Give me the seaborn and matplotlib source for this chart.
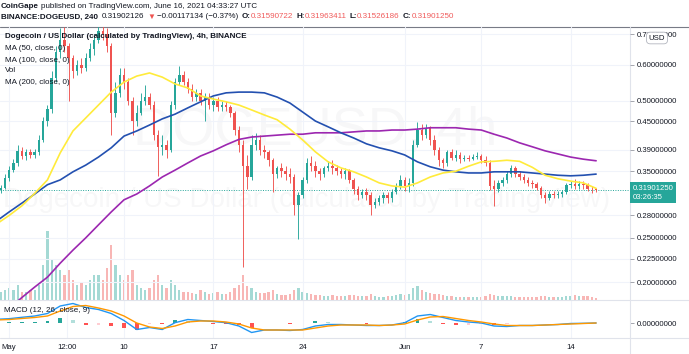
import numpy as np
import pandas as pd
import matplotlib
matplotlib.use("Agg")
import matplotlib.pyplot as plt
import matplotlib.dates as mdates
from matplotlib.lines import Line2D
from matplotlib.ticker import FixedLocator, FixedFormatter, NullLocator
import seaborn as sns

sns.set_theme(style="white")
plt.rcParams['font.family'] = ['Liberation Sans', 'DejaVu Sans']

# ── BINANCE:DOGEUSD, candles of 8h from 2021-04-30 08:00 (open = previous close) ──
FIRST_OPEN = 0.318
close = [0.322, 0.338,
         0.352, 0.365, 0.388,  0.378, 0.385, 0.380,  0.385, 0.410, 0.450,
         0.480, 0.560, 0.640,  0.680, 0.660, 0.620,  0.580, 0.600, 0.590,
         0.620, 0.650, 0.680,  0.710, 0.700, 0.660,  0.470, 0.520, 0.570,
         0.550, 0.500, 0.450,  0.470, 0.500, 0.510,  0.490, 0.420, 0.395,
         0.400, 0.390, 0.490,  0.550, 0.570, 0.550,  0.530, 0.510, 0.520,
         0.500, 0.510, 0.490,  0.500, 0.485, 0.490,  0.485, 0.470, 0.430,
         0.400, 0.360, 0.340,  0.400, 0.410, 0.390,  0.385, 0.370, 0.345,
         0.355, 0.350, 0.345,  0.340, 0.295, 0.310,  0.335, 0.365, 0.360,
         0.350, 0.345, 0.355,  0.360, 0.355, 0.350,  0.345, 0.350, 0.335,
         0.320, 0.310, 0.315,  0.310, 0.295, 0.300,  0.305, 0.310, 0.305,
         0.315, 0.325, 0.335,
         0.325, 0.330, 0.400,  0.430, 0.420, 0.435,  0.410, 0.390, 0.370,
         0.365, 0.385, 0.375,  0.380, 0.372, 0.375,  0.373, 0.376, 0.378,
         0.370, 0.365, 0.325,  0.320, 0.330, 0.335,  0.345, 0.355, 0.345,
         0.340, 0.335, 0.330,  0.328, 0.322, 0.310,  0.305, 0.312, 0.310,
         0.312, 0.315, 0.326,  0.328, 0.325, 0.328,  0.326, 0.320, 0.3195,
         0.319]
high = [0.326, 0.345,
        0.360, 0.372, 0.400,  0.395, 0.392, 0.392,  0.392, 0.420, 0.460,
        0.490, 0.580, 0.660,  0.720, 0.725, 0.670,  0.630, 0.615, 0.620,
        0.635, 0.670, 0.700,  0.740, 0.740, 0.720,  0.670, 0.550, 0.590,
        0.590, 0.560, 0.510,  0.490, 0.520, 0.540,  0.520, 0.500, 0.430,
        0.420, 0.410, 0.500,  0.560, 0.595, 0.580,  0.560, 0.545, 0.530,
        0.530, 0.520, 0.520,  0.510, 0.510, 0.500,  0.500, 0.490, 0.475,
        0.440, 0.410, 0.380,  0.420, 0.425, 0.420,  0.400, 0.390, 0.375,
        0.360, 0.365, 0.360,  0.355, 0.345, 0.315,  0.340, 0.375, 0.378,
        0.368, 0.356, 0.360,  0.368, 0.370, 0.362,  0.356, 0.355, 0.354,
        0.338, 0.325, 0.320,  0.322, 0.315, 0.305,  0.310, 0.315, 0.315,
        0.320, 0.330, 0.343,
        0.340, 0.338, 0.410,  0.449, 0.445, 0.445,  0.440, 0.420, 0.395,
        0.375, 0.390, 0.392,  0.390, 0.385, 0.380,  0.380, 0.382, 0.385,
        0.382, 0.378, 0.370,  0.335, 0.335, 0.340,  0.350, 0.362, 0.360,
        0.350, 0.345, 0.340,  0.335, 0.332, 0.325,  0.315, 0.316, 0.316,
        0.316, 0.318, 0.330,  0.334, 0.336, 0.333,  0.333, 0.330, 0.325,
        0.322]
low = [0.314, 0.320,
       0.334, 0.348, 0.360,  0.372, 0.370, 0.374,  0.375, 0.380, 0.405,
       0.440, 0.470, 0.550,  0.620, 0.640, 0.500,  0.560, 0.570, 0.575,
       0.580, 0.610, 0.630,  0.670, 0.680, 0.640,  0.420, 0.460, 0.510,
       0.530, 0.490, 0.420,  0.440, 0.465, 0.490,  0.480, 0.410, 0.342,
       0.380, 0.375, 0.385,  0.480, 0.540, 0.540,  0.520, 0.500, 0.500,
       0.490, 0.450, 0.480,  0.475, 0.475, 0.475,  0.475, 0.460, 0.420,
       0.385, 0.216, 0.320,  0.335, 0.390, 0.380,  0.375, 0.360, 0.315,
       0.338, 0.340, 0.335,  0.330, 0.280, 0.248,  0.305, 0.330, 0.350,
       0.340, 0.335, 0.340,  0.350, 0.345, 0.343,  0.338, 0.336, 0.330,
       0.312, 0.303, 0.305,  0.303, 0.280, 0.290,  0.295, 0.298, 0.298,
       0.300, 0.312, 0.320,
       0.316, 0.315, 0.325,  0.395, 0.410, 0.415,  0.400, 0.380, 0.360,
       0.355, 0.360, 0.370,  0.368, 0.365, 0.368,  0.368, 0.370, 0.372,
       0.365, 0.360, 0.318,  0.293, 0.315, 0.325,  0.330, 0.340, 0.340,
       0.335, 0.330, 0.325,  0.322, 0.318, 0.305,  0.298, 0.302, 0.305,
       0.306, 0.308, 0.312,  0.322, 0.320, 0.320,  0.320, 0.316, 0.314,
       0.315]
volume = [200, 250,
          300, 250, 375,  200, 200, 250,  250, 375, 875,
          1725, 1000, 875,  750, 625, 750,  500, 375, 450,
          375, 500, 625,  625, 500, 800,  1375, 875, 625,
          500, 625, 750,  375, 300, 250,  300, 500, 625,
          375, 300, 500,  375, 250, 200,  200, 175, 150,
          250, 200, 150,  175, 200, 150,  150, 200, 300,
          375, 625, 350,  300, 200, 175,  175, 200, 250,
          150, 125, 125,  150, 250, 300,  200, 175, 150,
          125, 125, 100,  100, 125, 100,  100, 100, 125,
          125, 100, 100,  100, 150, 100,  75, 75, 100,
          100, 125, 150,
          125, 150, 300,  350, 250, 200,  175, 150, 150,
          125, 100, 100,  75, 75, 75,  75, 75, 75,
          75, 100, 150,  125, 100, 100,  100, 100, 75,
          75, 75, 75,  75, 75, 100,  100, 75, 75,
          75, 75, 100,  100, 125, 100,  100, 100, 75,
          50]

# ── daily indicator values, 2021-04-30 .. 2021-06-16 ──
ma50 = [0.268, 0.280, 0.294, 0.313, 0.335, 0.384, 0.429, 0.458, 0.489, 0.522,
        0.549, 0.566, 0.575, 0.563, 0.544, 0.533, 0.512, 0.504, 0.497, 0.489,
        0.477, 0.465, 0.454, 0.433, 0.410, 0.386, 0.367, 0.356, 0.349, 0.340,
        0.330, 0.325, 0.323, 0.330, 0.340, 0.347, 0.350, 0.359, 0.367, 0.368,
        0.370, 0.368, 0.357, 0.343, 0.337, 0.333, 0.330, 0.321]
ma100 = [0.272, 0.285, 0.298, 0.312, 0.327, 0.335, 0.349, 0.361, 0.376, 0.394,
         0.418, 0.429, 0.442, 0.456, 0.467, 0.482, 0.497, 0.512, 0.520, 0.522,
         0.522, 0.520, 0.509, 0.494, 0.472, 0.451, 0.438, 0.425, 0.414, 0.402,
         0.394, 0.388, 0.380, 0.367, 0.358, 0.352, 0.349, 0.347, 0.347, 0.349,
         0.349, 0.349, 0.347, 0.345, 0.343, 0.342, 0.343, 0.345]
ma200 = [0.167, 0.175, 0.185, 0.195, 0.205, 0.220, 0.235, 0.250, 0.267, 0.285,
         0.303, 0.312, 0.325, 0.340, 0.352, 0.365, 0.378, 0.388, 0.400, 0.411,
         0.416, 0.418, 0.420, 0.422, 0.422, 0.425, 0.425, 0.425, 0.427, 0.429,
         0.429, 0.431, 0.431, 0.433, 0.436, 0.436, 0.436, 0.433, 0.431, 0.422,
         0.414, 0.404, 0.396, 0.388, 0.382, 0.376, 0.372, 0.369]
macd = [0.0074, 0.0086, 0.0114, 0.014, 0.019, 0.034, 0.039, 0.031, 0.027, 0.019,
        0.005, -0.013, -0.009, -0.013, 0.0006, 0.007, 0.005, 0.003, 0.0006, -0.006,
        -0.019, -0.014, -0.014, -0.015, -0.013, -0.006, -0.003, -0.003, -0.004, -0.005,
        -0.005, -0.004, 0.0006, 0.014, 0.017, 0.011, 0.005, 0.002, 0.0, -0.006,
        -0.007, -0.005, -0.005, -0.004, -0.003, -0.001, -0.0006, 0.0]
signal = [0.006, 0.007, 0.009, 0.011, 0.014, 0.024, 0.033, 0.035, 0.030, 0.024,
          0.014, 0.0, -0.008, -0.011, -0.006, 0.002, 0.004, 0.004, 0.002, -0.002,
          -0.010, -0.014, -0.014, -0.014, -0.014, -0.010, -0.006, -0.004, -0.004, -0.004,
          -0.005, -0.004, -0.002, 0.006, 0.012, 0.013, 0.009, 0.005, 0.002, -0.002,
          -0.005, -0.005, -0.005, -0.004, -0.003, -0.002, -0.001, 0.0]

LAST_PRICE = 0.31901250
PRICE_TICKS = [0.2, 0.225, 0.25, 0.28, 0.35, 0.39, 0.45, 0.5, 0.6, 0.7]
DATE_TICKS = ['2021-05-01 00:00', '2021-05-05 12:00', '2021-05-10 00:00', '2021-05-17 00:00',
              '2021-05-24 00:00', '2021-06-01 00:00', '2021-06-07 00:00', '2021-06-14 00:00']
DATE_LABELS = ['May', '12:00', '10', '17', '24', 'Jun', '7', '14']

GREEN, RED = '#26a69a', '#ef5350'
INK = '#131722'
LINE = '#e0e3eb'
GRID = '#f0f3fa'
FS = 5.6
HFS = 5.8

# ── figure / panes ───────────────────────────────────────────
W, H = 689, 354
fig = plt.figure(figsize=(W / 100, H / 100), dpi=100)
fig.patch.set_facecolor('white')


def fx(px):
    return px / W


def fy(py):
    return 1 - py / H


ax = fig.add_axes([0, fy(300), fx(630), fy(27) - fy(300)])
axv = ax.twinx()
ax2 = fig.add_axes([0, fy(338), fx(630), fy(300) - fy(338)], sharex=ax)
ax.set_zorder(2)
axv.set_zorder(1)
ax.patch.set_visible(False)
axv.patch.set_visible(False)

t = mdates.date2num(pd.date_range('2021-04-30 08:00', periods=len(close), freq='8h'))
d = mdates.date2num(pd.date_range('2021-04-30', '2021-06-16', freq='D'))

c = np.array(close)
o = np.r_[FIRST_OPEN, c[:-1]]
col = np.where(c >= o, GREEN, RED)

# volume (behind)
axv.bar(t, volume, width=0.18, color=col, alpha=0.42, linewidth=0)
axv.set_ylim(0, 6825)
axv.set_yticks([])

# candles
ax.vlines(t, low, high, colors=col, linewidth=0.65, zorder=3)
ax.bar(t, np.abs(c - o), bottom=np.minimum(o, c), width=0.19, color=col,
       linewidth=0, zorder=4)

# moving averages
for vals, color in [(ma200, '#9c27b0'), (ma100, '#2350b0'), (ma50, '#ffeb3b')]:
    sns.lineplot(x=d, y=vals, ax=ax, color=color, linewidth=1.2, legend=False, zorder=5)

ax.axhline(LAST_PRICE, color=GREEN, linewidth=0.7, linestyle=(0, (1, 1.5)), zorder=2)

ax.set_yscale('log')
ax.set_ylim(0.18267, 0.7252)
ax.yaxis.set_major_locator(FixedLocator(PRICE_TICKS))
ax.yaxis.set_major_formatter(FixedFormatter([f'{v:.8f}' for v in PRICE_TICKS]))
ax.yaxis.set_minor_locator(NullLocator())
ax.yaxis.tick_right()
ax.tick_params(axis='y', length=3, width=0.6, color='#9598a1', labelsize=FS,
               labelcolor=INK, pad=2)
ax.grid(True, color=GRID, linewidth=0.8)
ax.set_xlabel('')
ax.set_ylabel('')

xt = mdates.date2num(pd.to_datetime(DATE_TICKS, format='%Y-%m-%d %H:%M'))
ax.set_xlim(mdates.date2num(pd.Timestamp('2021-04-30 06:46')),
            mdates.date2num(pd.Timestamp('2021-06-18 15:43')))
ax.xaxis.set_major_locator(FixedLocator(xt))
ax.xaxis.set_major_formatter(FixedFormatter(DATE_LABELS))
ax.tick_params(axis='x', length=0, labelbottom=False)

# ── MACD pane ────────────────────────────────────────────────
hist = np.array(macd) - np.array(signal)
prev = np.r_[hist[0], hist[:-1]]
hcol = [(GREEN if h >= p else '#b2dfdb') if h >= 0 else ('#ff5252' if h < p else '#ffcdd2')
        for h, p in zip(hist, prev)]
ax2.bar(d, hist, width=0.3, color=hcol, linewidth=0)
sns.lineplot(x=d, y=macd, ax=ax2, color='#2196f3', linewidth=1.0, legend=False)
sns.lineplot(x=d, y=signal, ax=ax2, color='#ff9800', linewidth=1.0, legend=False)
ax2.set_ylim(-0.030, 0.046)
ax2.yaxis.tick_right()
ax2.yaxis.set_major_locator(FixedLocator([0.0]))
ax2.yaxis.set_major_formatter(FixedFormatter(['0.00000000']))
ax2.tick_params(axis='y', length=3, width=0.6, color='#9598a1', labelsize=FS,
                labelcolor=INK, pad=2)
ax2.tick_params(axis='x', length=0, labelsize=FS, labelcolor=INK, pad=4, labelbottom=True)
ax2.grid(True, axis='x', color=GRID, linewidth=0.8)
ax2.set_xlabel('')
ax2.set_ylabel('')

for a in (ax, axv, ax2):
    for s in a.spines.values():
        s.set_visible(False)

# frame lines
for xs, ys, cl in [([0, 1], [fy(26.5)] * 2, '#787b86'),
                   ([fx(630)] * 2, [fy(26.5), 0], LINE),
                   ([0, 1], [fy(300)] * 2, LINE),
                   ([0, 1], [fy(338)] * 2, LINE)]:
    fig.add_artist(Line2D(xs, ys, color=cl, linewidth=0.8, transform=fig.transFigure))

# last price tag
ax.annotate('0.31901250\n03:26:35', xy=(1, LAST_PRICE), xycoords=('axes fraction', 'data'),
            xytext=(1.8, 3.3), textcoords='offset points', ha='left', va='top',
            fontsize=FS, color='white', linespacing=1.35, annotation_clip=False, zorder=10,
            bbox=dict(boxstyle='square,pad=0.35', fc=GREEN, ec='none'))

# currency badge sits over the top price label, as in the TradingView export
fig.text(fx(657), fy(38), 'USD', fontsize=FS, ha='center', va='center', color=INK, zorder=20,
         bbox=dict(boxstyle='round,pad=0.3,rounding_size=0.5', fc='white', ec='#b2b5be', lw=0.6))

# watermark
axv.text(fx(315), fy(131), 'DOGEUSD, 4h', transform=fig.transFigure, ha='center', va='center',
         fontsize=39, color=INK, alpha=0.03, zorder=0)
axv.text(fx(307), fy(200), 'Dogecoin / US Dollar (calculated by TradingView)',
         transform=fig.transFigure, ha='center', va='center', fontsize=20, color=INK,
         alpha=0.03, zorder=0)

# ── header and pane legends ──────────────────────────────────
rend = fig.canvas.get_renderer()


def text_row(pieces, x0, y):
    x = x0
    for s, color, weight, gap in pieces:
        tx = fig.text(fx(x), fy(y), s, color=color, fontweight=weight, fontsize=HFS,
                      ha='left', va='center', zorder=20)
        x += tx.get_window_extent(rend).width + gap


VAL = '#f05a5a'
text_row([('CoinGape', INK, 'bold', 2.5),
          ('published on TradingView.com, June 16, 2021 04:33:27 UTC', INK, 'normal', 0)], 1, 6)
text_row([('BINANCE:DOGEUSD, 240', INK, 'bold', 3.5),
          ('0.31902126', INK, 'normal', 3), ('▼', RED, 'normal', 2.5),
          ('−0.00117134 (−0.37%)', INK, 'normal', 3.5),
          ('O:', INK, 'bold', 0), ('0.31590722', VAL, 'normal', 3),
          ('H:', INK, 'bold', 0), ('0.31963411', VAL, 'normal', 3),
          ('L:', INK, 'bold', 0), ('0.31526186', VAL, 'normal', 3),
          ('C:', INK, 'bold', 0), ('0.31901250', VAL, 'normal', 0)], 1, 17)

fig.text(fx(5), fy(37), 'Dogecoin / US Dollar (calculated by TradingView), 4h, BINANCE',
         fontsize=HFS, fontweight='bold', color=INK, va='center', zorder=20)
for y, s in [(49, 'MA (50, close, 0)'), (60, 'MA (100, close, 0)'), (71, 'Vol'),
             (82, 'MA (200, close, 0)')]:
    fig.text(fx(5), fy(y), s, fontsize=HFS, color=INK, va='center', zorder=20)
fig.text(fx(4), fy(310), 'MACD (12, 26, close, 9)', fontsize=HFS, color=INK, va='center', zorder=20)

fig.savefig('out.png', dpi=100, facecolor='white')
